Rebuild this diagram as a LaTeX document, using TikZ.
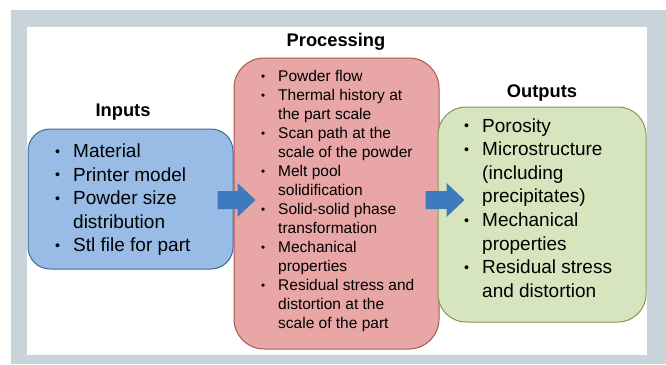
\documentclass[tikz,border=0pt]{standalone}
\usepackage{fontspec}
\setmainfont{Liberation Sans}
\usetikzlibrary{positioning, calc}
\definecolor{framegray}{RGB}{200,212,218}
\definecolor{infill}{RGB}{152,188,229}
\definecolor{inborder}{RGB}{70,105,150}
\definecolor{procfill}{RGB}{232,166,166}
\definecolor{procborder}{RGB}{175,85,82}
\definecolor{outfill}{RGB}{214,229,190}
\definecolor{outborder}{RGB}{135,150,85}
\definecolor{arrowblue}{RGB}{62,122,190}
\newcommand{\dotb}{\raisebox{0.08em}{\scalebox{0.75}{\textbullet}}}

\begin{document}
\begin{tikzpicture}[x=1pt, y=-1pt,
    box/.style={draw, line width=1pt},
    title/.style={font=\fontsize{18.3}{22}\selectfont\bfseries},
    biglist/.style={inner sep=0pt, anchor=west, font=\fontsize{19}{23.6}\selectfont},
    smalllist/.style={inner sep=0pt, anchor=west, font=\fontsize{15.5}{19}\selectfont},
    flowarrow/.style={fill=arrowblue}]
      \useasboundingbox (0,0) rectangle (666,364);
      \fill[framegray] (11,10) rectangle (666,364);
      \fill[white] (27,27) rectangle (647,355);

      % the three boxes
      \node[box, fill=infill, draw=inborder, rounded corners=22pt, minimum width=205pt, minimum height=140pt] (inputs) at (130.5,199) {};
      \node[box, fill=procfill, draw=procborder, rounded corners=30pt, minimum width=205pt, minimum height=291pt] (processing) at (336.5,203.5) {};
      \node[box, fill=outfill, draw=outborder, rounded corners=28pt, minimum width=208pt, minimum height=215pt] (outputs) at (542,214.5) {};

      \node[title] (intitle) at (123,112) {Inputs};
      \node[title] (proctitle) at (336,42) {Processing};
      \node[title] (outtitle) at (542,93) {Outputs};

      \node[biglist] (inlist) at (55,200) {\begin{tabular}{@{}p{18pt}@{}l@{}}
        \dotb & Material\\
        \dotb & Printer model\\
        \dotb & Powder size\\
              & distribution\\
        \dotb & Stl file for part
      \end{tabular}};
      \node[smalllist] (proclist) at (261,201) {\begin{tabular}{@{}p{17pt}@{}l@{}}
        \dotb & Powder flow\\
        \dotb & Thermal history at\\
              & the part scale\\
        \dotb & Scan path at the\\
              & scale of the powder\\
        \dotb & Melt pool\\
              & solidification\\
        \dotb & Solid-solid phase\\
              & transformation\\
        \dotb & Mechanical\\
              & properties\\
        \dotb & Residual stress and\\
              & distortion at the\\
              & scale of the part
      \end{tabular}};
      \node[biglist] (outlist) at (464,210) {\begin{tabular}{@{}p{18pt}@{}l@{}}
        \dotb & Porosity\\
        \dotb & Microstructure\\
              & (including\\
              & precipitates)\\
        \dotb & Mechanical\\
              & properties\\
        \dotb & Residual stress\\
              & and distortion
      \end{tabular}};

      % block arrows between the boxes
      \coordinate (a1) at ([xshift=-16pt,yshift=-1pt]inputs.east);
      \coordinate (a2) at ([xshift=-14pt,yshift=3.5pt]processing.east);
      \fill[flowarrow] (a1) ++(0,-9) -- ++(20,0) -- ++(0,-8) -- ++(18,17) -- ++(-18,17) -- ++(0,-8) -- ++(-20,0) -- cycle;
      \fill[flowarrow] (a2) ++(0,-9) -- ++(21,0) -- ++(0,-8) -- ++(18,17) -- ++(-18,17) -- ++(0,-8) -- ++(-21,0) -- cycle;
    \end{tikzpicture}
\end{document}
